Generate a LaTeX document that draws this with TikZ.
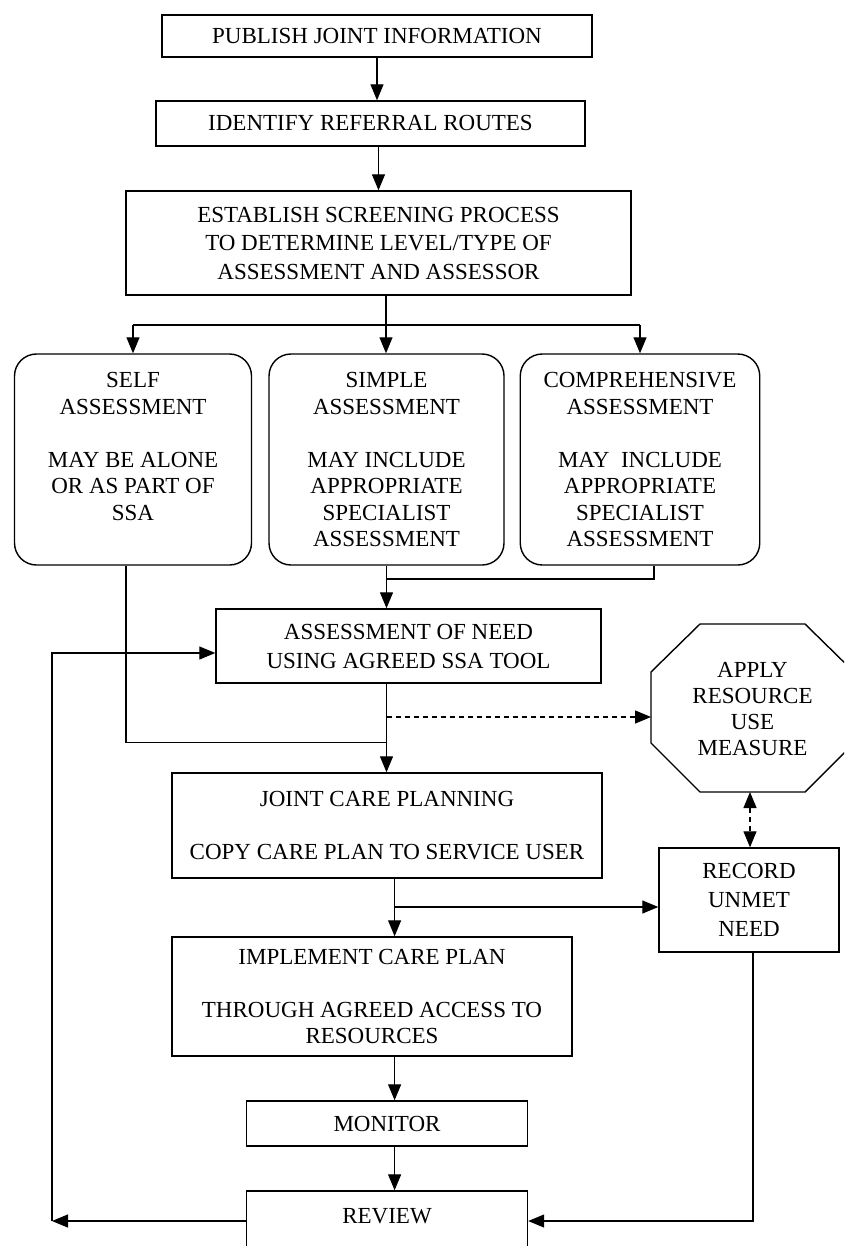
\documentclass[tikz,border=0pt]{standalone}
\usepackage{fontspec}
\setmainfont{Liberation Serif}
\usetikzlibrary{arrows.meta,calc}
\begin{document}
\begin{tikzpicture}[x=1pt,y=-1pt,
  every node/.style={font=\fontsize{23}{26.5}\selectfont, align=center, inner sep=0pt},
  box/.style={draw, line width=1.4pt},
  rbox/.style={box, rounded corners=22pt},
  conn/.style={line width=1.2pt},
  arr/.style={conn, -{Triangle[length=16pt,width=13pt]}},
  darr/.style={conn, dash pattern=on 5pt off 4pt, {Triangle[length=16pt,width=13pt]}-{Triangle[length=16pt,width=13pt]}},
  dasharr/.style={arr, dash pattern=on 5pt off 4pt}]
\useasboundingbox (0,0) rectangle (844,1246);
\clip (0,0) rectangle (844,1246);
\fill[white] (0,0) rectangle (844,1246);

% boxes
\node[box, minimum width=430pt, minimum height=42pt] (pub) at (377,36) {PUBLISH JOINT INFORMATION};
\node[box, minimum width=429pt, minimum height=45pt] (ident) at (370.5,123.5) {IDENTIFY REFERRAL ROUTES};
\node[box, minimum width=505pt, minimum height=104pt, font=\fontsize{23}{28.5}\selectfont] (estab) at (378.5,243)
  {ESTABLISH SCREENING PROCESS\\TO DETERMINE LEVEL/TYPE OF\\ASSESSMENT AND ASSESSOR};
\node[rbox, minimum width=237pt, minimum height=211pt] (self) at (133,459.5)
  {SELF\\ASSESSMENT\\[26.5pt]MAY BE ALONE\\OR AS PART OF\\SSA\\\mbox{}};
\node[rbox, minimum width=235pt, minimum height=211pt] (simple) at (386.5,459.5)
  {SIMPLE\\ASSESSMENT\\[26.5pt]MAY INCLUDE\\APPROPRIATE\\SPECIALIST\\ASSESSMENT};
\node[rbox, minimum width=239.5pt, minimum height=211pt] (comp) at (640,459.5)
  {COMPREHENSIVE\\ASSESSMENT\\[26.5pt]MAY\ \ INCLUDE\\APPROPRIATE\\SPECIALIST\\ASSESSMENT};
\node[box, minimum width=385pt, minimum height=74pt, font=\fontsize{23}{29}\selectfont] (assess) at (408.5,646)
  {ASSESSMENT OF NEED\\USING AGREED SSA TOOL};
\node[box, minimum width=430pt, minimum height=105pt] (joint) at (387,825.5)
  {JOINT CARE PLANNING\\[27pt]COPY CARE PLAN TO SERVICE USER};
\node[box, minimum width=400pt, minimum height=119pt] (implement) at (372,996.5)
  {IMPLEMENT CARE PLAN\\[26.5pt]THROUGH AGREED ACCESS TO\\RESOURCES};
\node[box, minimum width=281pt, minimum height=45pt] (monitor) at (387,1123.5) {MONITOR};
\node[box, minimum width=281pt, minimum height=60pt, text depth=10pt] (review) at (387,1221) {REVIEW};
\node[box, minimum width=180pt, minimum height=104pt, font=\fontsize{23}{29}\selectfont] (record) at (749,900)
  {RECORD\\UNMET\\NEED};

% octagon
\draw[box] (700,624) -- (805,624) -- (854,672) -- (854,743) -- (805,792) -- (700,792) -- (651,743) -- (651,672) -- cycle;
\node[font=\fontsize{23}{26}\selectfont] (apply) at (752.5,709) {APPLY\\RESOURCE\\USE\\MEASURE};
\coordinate (octW) at (651,717);
\coordinate (octS) at (750,792);

% connectors
\draw[arr] (pub.south) -- (pub.south |- ident.north);
\draw[arr] (estab.north |- ident.south) -- (estab.north);

\coordinate (split) at (386,325);
\draw[conn] (estab.south -| split) -- (split);
\draw[conn] (self.north |- split) -- (comp.north |- split);
\draw[arr] (self.north |- split) -- (self.north);
\draw[arr] (split) -- (split |- simple.north);
\draw[arr] (comp.north |- split) -- (comp.north);

\coordinate (merge) at (386.5,579);
\draw[conn] (simple.south -| merge) -- (merge);
\draw[conn] ($(comp.south)+(14,0)$) |- (merge);
\draw[arr] (merge) -- (merge |- assess.north);

\coordinate (join) at (386.5,742.7);
\draw[conn] ($(self.south)+(-7,0)$) |- (join);
\draw[conn] (assess.south -| join) -- (join);
\draw[arr] (join) -- (join |- joint.north);
\coordinate (dash) at (386.5,717);
\draw[dasharr] (dash) -- (octW);
\draw[darr] (octS) -- (octS |- record.north);

\coordinate (branch) at (394.6,907);
\draw[conn] (joint.south -| branch) -- (branch);
\draw[arr] (branch) -- (branch |- implement.north);
\draw[arr] (branch) -- (record.west |- branch);
\draw[arr] (implement.south -| branch) -- (branch |- monitor.north);
\draw[arr] (monitor.south -| branch) -- (branch |- review.north);

\coordinate (fbcorner) at (52,653);
\draw[arr] (review.west) -- (review.west -| fbcorner);
\draw[arr] (review.west -| fbcorner) -- (fbcorner) -- (assess.west |- fbcorner);
\draw[arr] ($(record.south)+(4,0)$) |- (review.east);
\end{tikzpicture}
\end{document}
